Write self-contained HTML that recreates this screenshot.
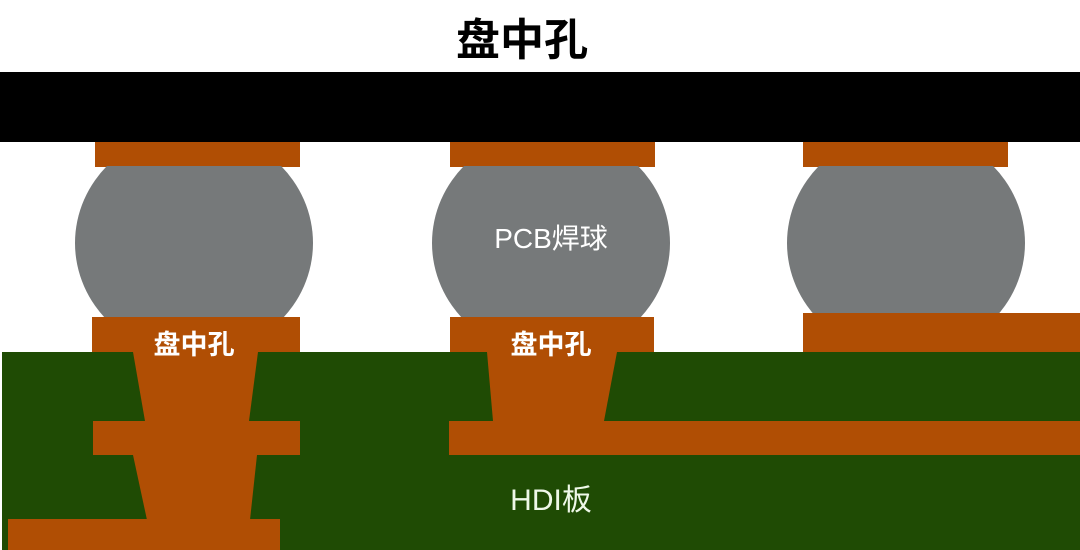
<!DOCTYPE html>
<html><head><meta charset="utf-8"><style>
html,body{margin:0;padding:0;background:#fff;width:1080px;height:550px;overflow:hidden}
</style></head><body>
<svg width="1080" height="550" viewBox="0 0 1080 550" xmlns="http://www.w3.org/2000/svg">
<defs><clipPath id="bc"><rect x="0" y="166" width="1080" height="152"/></clipPath></defs>
<rect width="1080" height="550" fill="#fff"/>
<text x="522" y="55" text-anchor="middle" font-family="Liberation Sans, Noto Sans CJK SC, sans-serif" font-weight="bold" font-size="44" fill="#000">盘中孔</text>
<rect x="0" y="72" width="1080" height="70" fill="#000"/>
<g fill="#b04e04">
<rect x="95" y="142" width="205" height="25"/>
<rect x="450" y="142" width="205" height="25"/>
<rect x="803" y="142" width="205" height="25"/>
</g>
<g fill="#76797a" clip-path="url(#bc)">
<ellipse cx="194" cy="243" rx="119" ry="113"/>
<ellipse cx="551" cy="243" rx="119" ry="113"/>
<ellipse cx="906" cy="243" rx="119" ry="113"/>
</g>
<rect x="2" y="352" width="1078" height="198" fill="#1f4b04"/>
<g fill="#b04e04">
<rect x="92" y="317" width="208" height="35"/>
<rect x="450" y="317" width="204" height="35"/>
<rect x="803" y="313" width="277" height="39"/>
<polygon points="133,352 258,352 249,421 145,421"/>
<rect x="93" y="421" width="207" height="34"/>
<polygon points="133,455 257,455 250,520 147,520"/>
<rect x="8" y="519" width="272" height="31"/>
<polygon points="487,352 617,352 604,421 493,421"/>
<rect x="449" y="421" width="631" height="34"/>
</g>
<g font-family="Liberation Sans, Noto Sans CJK SC, sans-serif" text-anchor="middle">
<text x="551" y="248" font-size="28" fill="#fff">PCB焊球</text>
<text x="194" y="354" font-size="27" font-weight="bold" fill="#fff">盘中孔</text>
<text x="551" y="354" font-size="27" font-weight="bold" fill="#fff">盘中孔</text>
<text x="551" y="510" font-size="30" fill="#eef8e8">HDI板</text>
</g>
</svg>
</body></html>
